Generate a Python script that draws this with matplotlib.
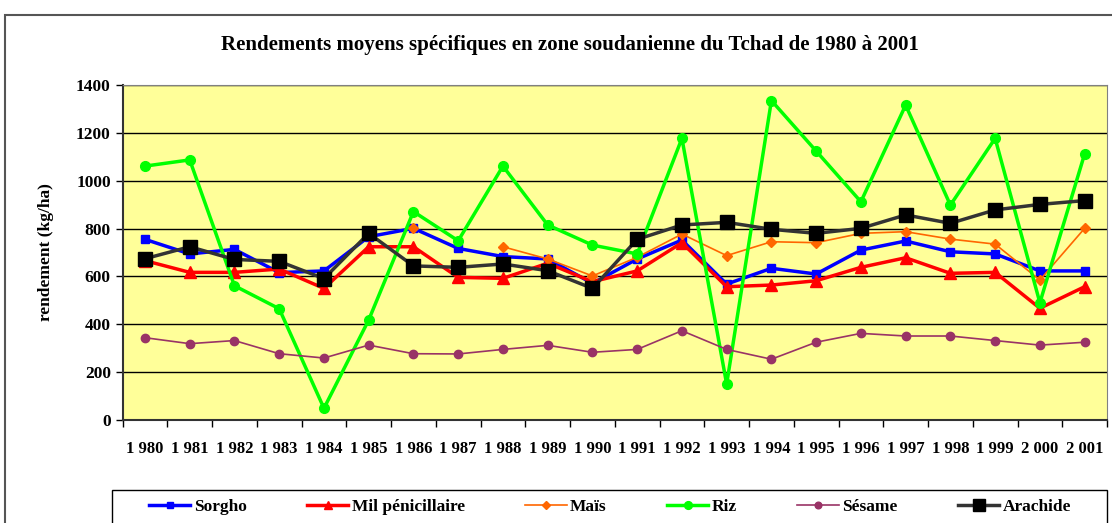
import matplotlib
matplotlib.use("Agg")
import matplotlib.pyplot as plt
import numpy as np
from matplotlib.patches import Rectangle

# donnees (kg/ha)
annees = ["1 980", "1 981", "1 982", "1 983", "1 984", "1 985", "1 986", "1 987",
          "1 988", "1 989", "1 990", "1 991", "1 992", "1 993", "1 994", "1 995",
          "1 996", "1 997", "1 998", "1 999", "2 000", "2 001"]

sorgho = [755, 694, 713, 616, 623, 766, 801, 717, 683, 673, 571, 673, 752, 568,
          634, 610, 710, 748, 703, 694, 623, 623]
mil = [666, 617, 617, 631, 550, 724, 724, 596, 592, 655, 578, 623, 741, 557,
       564, 582, 638, 678, 613, 617, 467, 557]
mais = [np.nan, np.nan, np.nan, np.nan, np.nan, np.nan, 801, np.nan, 724, 673,
        602, 680, 777, 687, 745, 741, 780, 787, 756, 735, 585, 801]
riz = [1061, 1087, 561, 465, 49, 418, 871, 749, 1061, 815, 731, 694, 1177, 150,
       1335, 1124, 912, 1316, 898, 1177, 490, 1112]
sesame = [344, 319, 332, 277, 259, 313, 277, 276, 295, 312, 283, 295, 373, 295,
          254, 325, 362, 351, 351, 332, 313, 325]
arachide = [674, 724, 671, 663, 591, 780, 644, 638, 652, 624, 550, 755, 815, 826,
            797, 780, 801, 857, 822, 878, 901, 917]

plt.rcParams['font.family'] = ['Liberation Serif', 'DejaVu Serif']
plt.rcParams['font.weight'] = 'bold'

fig = plt.figure(figsize=(11.12, 5.23), dpi=100)

# cadre exterieur de la zone graphique
fig.patches.append(Rectangle((5 / 1112, -0.1), 1.2, 1 - 15 / 523 + 0.1,
                             transform=fig.transFigure, fill=False,
                             edgecolor='#555555', linewidth=1.5))

ax = fig.add_axes([122.6 / 1112, 1 - 420 / 523, (1107 - 122.6) / 1112, 335 / 523])
ax.set_facecolor('#FFFF99')

x = np.arange(len(annees))
ax.plot(x, sorgho, color='#0000FF', lw=2.5, marker='s', ms=6, label='Sorgho')
ax.plot(x, mil, color='#FF0000', lw=2.5, marker='^', ms=8, label='Mil pénicillaire')
ax.plot(x, mais, color='#FF6600', lw=1.2, marker='D', ms=5, label='Maïs')
ax.plot(x, riz, color='#00FF00', lw=2.5, marker='o', ms=7, label='Riz')
ax.plot(x, sesame, color='#993366', lw=1.2, marker='o', ms=6, label='Sésame')
ax.plot(x, arachide, color='#333333', lw=2.5, marker='s', ms=10,
        markerfacecolor='black', markeredgecolor='black', label='Arachide')

ax.set_xlim(-0.5, len(annees) - 0.5)
ax.set_ylim(0, 1400)
ax.set_yticks(range(0, 1401, 200))
ax.yaxis.grid(True, color='black', lw=1)
ax.set_axisbelow(True)

ax.set_xticks(x)
ax.set_xticklabels(annees, fontsize=12, fontweight='bold')
ax.set_xticks(np.arange(-0.5, len(annees), 1), minor=True)
ax.tick_params(axis='x', which='major', length=0, pad=15)
ax.tick_params(axis='x', which='minor', length=5, width=1, direction='out')
ax.tick_params(axis='y', length=5, width=1, labelsize=12.5)
for lab in ax.get_yticklabels():
    lab.set_fontweight('bold')

for s in ['top', 'right']:
    ax.spines[s].set_color('#808080')
for s in ['left', 'bottom']:
    ax.spines[s].set_color('#333333')
    ax.spines[s].set_linewidth(1.5)

ax.set_ylabel('rendement (kg/ha)', fontsize=12.5, fontweight='bold', labelpad=16)

fig.text(0.5125, 1 - 45 / 523, 'Rendements moyens spécifiques en zone soudanienne du Tchad de 1980 à 2001',
         ha='center', va='center', fontsize=15, fontweight='bold')

leg = fig.legend(loc='upper left', bbox_to_anchor=(140 / 1112, 1 - 490 / 523, (1080 - 140) / 1112, 0),
                 ncol=6, mode='expand', frameon=False,
                 prop={'weight': 'bold', 'size': 12.5}, markerscale=0.8,
                 handlelength=2.4, handletextpad=0.2, borderaxespad=0, borderpad=0.5)
# cadre de la legende
fig.patches.append(Rectangle((112 / 1112, -0.05), (1107 - 112) / 1112, 0.05 + 33 / 523,
                             transform=fig.transFigure, fill=False,
                             edgecolor='black', linewidth=1))

fig.savefig('out.png', dpi=100)
